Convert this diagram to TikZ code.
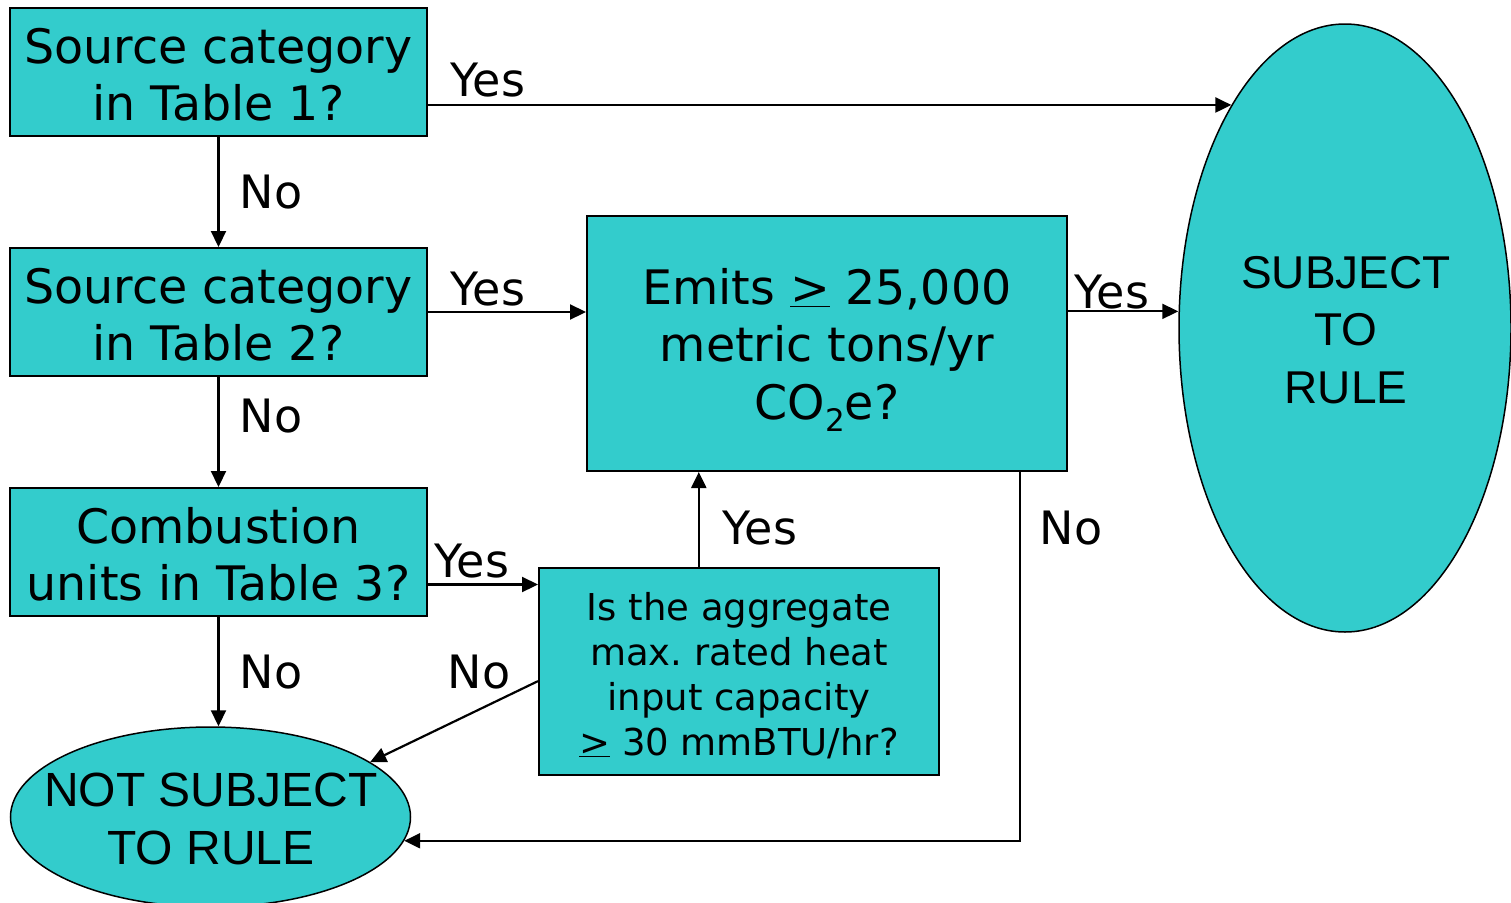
\documentclass[tikz,border=0pt]{standalone}
\usepackage{fontspec}
\setmainfont{DejaVu Sans}
\newfontfamily\arialfont{Liberation Sans}
\usetikzlibrary{shapes.geometric,arrows.meta,calc}
\definecolor{tealfill}{HTML}{33CCCC}
\newcommand{\tstr}[1]{\rule{0pt}{#1}}
\newcommand{\bstr}[1]{\rule[-#1]{0pt}{#1}}
\frenchspacing
\begin{document}
\begin{tikzpicture}[x=1pt,y=-1pt,
  box/.style={draw=black,line width=2pt,fill=tealfill,inner sep=0pt,align=center,font=\fontsize{47.5}{57}\selectfont},
  oval/.style={ellipse,draw=black,line width=1.5pt,fill=tealfill,inner sep=0pt},
  ovaltext/.style={align=center,inner sep=0pt},
  lbl/.style={font=\fontsize{46}{55}\selectfont,inner sep=0pt},
  arr/.style={line width=2.2pt,-{Triangle[length=16pt,width=15pt]}}
]
\useasboundingbox (0,0) rectangle (1511,902);

% boxes
\node[box,minimum width=417pt,minimum height=128pt] (b1) at (218.5,72)
  {\tstr{50pt}Source category\\in Table 1?\bstr{11pt}};
\node[box,minimum width=417pt,minimum height=128pt] (b2) at (218.5,312)
  {\tstr{50pt}Source category\\in Table 2?\bstr{11pt}};
\node[box,minimum width=417pt,minimum height=128pt] (b3) at (218.5,552)
  {\tstr{50pt}Combustion\\units in Table 3?\bstr{11pt}};
\node[box,minimum width=480pt,minimum height=255pt,font=\fontsize{47.5}{57.5}\selectfont] (emits) at (827,343.5)
  {\tstr{50pt}Emits \underline{>} 25,000\\metric tons/yr\\CO\raisebox{-12.5pt}{\fontsize{31}{31}\selectfont 2}e?\bstr{13.4pt}};
\node[box,minimum width=400pt,minimum height=207pt,font=\fontsize{37}{45}\selectfont] (small) at (739,671.5)
  {\tstr{40pt}Is the aggregate\\max. rated heat\\input capacity\\\underline{>} 30 mmBTU/hr?\bstr{8pt}};

% ovals
\node[oval,minimum width=332pt,minimum height=608pt] (subj) at (1345,328) {};
\node[ovaltext,font=\arialfont\fontsize{46}{57.5}\selectfont] (subjtxt) at (1346,330) {SUBJECT\\TO\\RULE};
\node[oval,minimum width=400pt,minimum height=180pt] (notsub) at (210.5,817) {};
\node[ovaltext,font=\arialfont\fontsize{48}{57.5}\selectfont] (notsubtxt) at (211,819) {NOT SUBJECT\\TO RULE};

% connectors
\draw[arr] (b1.east |- subj.117) -- (subj.117);
\draw[arr] (b1.south) -- (b2.north);
\draw[arr] (b2.east) -- (b2.east -| emits.west);
\draw[arr] (b2.south) -- (b3.north);
\coordinate (b3y) at ($(b3.north east)!0.75!(b3.south east)$);
\draw[arr] (b3y) -- (b3y -| small.west);
\draw[arr] (b3.south) -- (b3.south |- notsub.north);
\coordinate (sn) at ($(small.north west)!0.4!(small.north east)$);
\draw[arr] (sn) -- (sn |- emits.south);
\coordinate (sw) at ($(small.north west)!0.546!(small.south west)$);
\draw[arr] (sw) -- (notsub.19);
\coordinate (es) at ($(emits.south west)!0.9!(emits.south east)$);
\draw[arr] (es) |- (notsub.-7);
\coordinate (ee) at ($(emits.north east)!0.375!(emits.south east)$);
\draw[arr] (ee) -- (ee -| subj.west);

% labels
\node[lbl] (l1) at (488,80) {Yes};
\node[lbl] (l2) at (271,192) {No};
\node[lbl] (l3) at (488,289) {Yes};
\node[lbl] (l4) at (271,416) {No};
\node[lbl] (l5) at (472,561) {Yes};
\node[lbl] (l6) at (271,672) {No};
\node[lbl] (l7) at (479,672) {No};
\node[lbl] (l8) at (760,528) {Yes};
\node[lbl] (l9) at (1071,528) {No};
\node[lbl] (l10) at (1112,292) {Yes};
\end{tikzpicture}
\end{document}
